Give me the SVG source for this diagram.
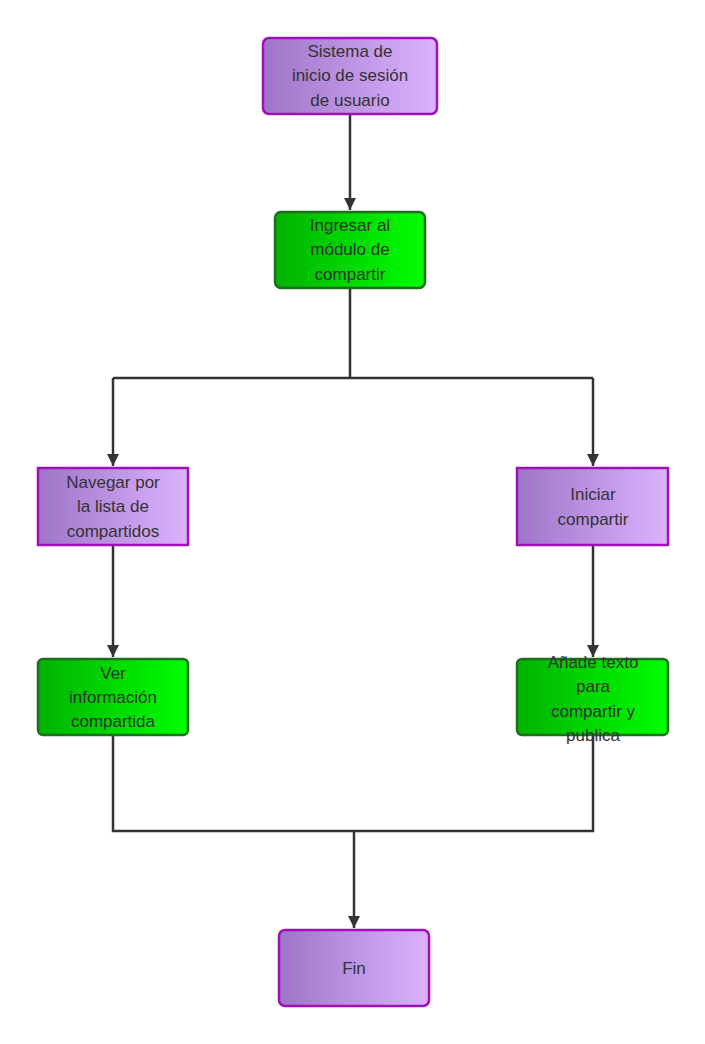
<svg xmlns="http://www.w3.org/2000/svg" width="705" height="1044" viewBox="0 0 705 1044">
<defs>
<linearGradient id="gp" x1="0" y1="0" x2="1" y2="0"><stop offset="0" stop-color="#9e74c8"/><stop offset="1" stop-color="#dcb2ff"/></linearGradient>
<linearGradient id="gg" x1="0" y1="0" x2="1" y2="0"><stop offset="0" stop-color="#00b200"/><stop offset="1" stop-color="#00ff00"/></linearGradient>
<marker id="ar" viewBox="0 0 10 10" refX="10" refY="5" markerWidth="5" markerHeight="5" orient="auto"><path d="M0,0 L10,5 L0,10 z" fill="#333"/></marker>
<style>
.p{fill:url(#gp);stroke:#a010b8;stroke-width:2.5}
.g{fill:url(#gg);stroke:#1e6e1e;stroke-width:2.5}
text{font-family:"Liberation Sans",Arial,sans-serif;font-size:17px;fill:#333;text-anchor:middle}
.c{fill:none;stroke:#333;stroke-width:2.5}
</style>
</defs>
<rect width="705" height="1044" fill="#fff"/>
<g id="connectors">
<path class="c" d="M350,114 V210" marker-end="url(#ar)"/>
<path class="c" d="M350,288 V378 M113,378 H593"/>
<path class="c" d="M113,378 V466" marker-end="url(#ar)"/>
<path class="c" d="M593,378 V466" marker-end="url(#ar)"/>
<path class="c" d="M113,545 V657" marker-end="url(#ar)"/>
<path class="c" d="M593,545 V657" marker-end="url(#ar)"/>
<path class="c" d="M113,735 V831 H593 V735"/>
<path class="c" d="M354,831 V928" marker-end="url(#ar)"/>
</g>
<g id="n1"><rect class="p" x="263" y="38" width="174" height="76" rx="6"/><text x="350" y="57">Sistema de</text><text x="350" y="81">inicio de sesión</text><text x="350" y="106">de usuario</text></g>
<g id="n2"><rect class="g" x="275" y="212" width="150" height="76" rx="6"/><text x="350" y="231">Ingresar al</text><text x="350" y="255">módulo de</text><text x="350" y="280">compartir</text></g>
<g id="n3"><rect class="p" x="38" y="468" width="150" height="77"/><text x="113" y="488">Navegar por</text><text x="113" y="512">la lista de</text><text x="113" y="537">compartidos</text></g>
<g id="n4"><rect class="p" x="517" y="468" width="151" height="77"/><text x="593" y="500">Iniciar</text><text x="593" y="525">compartir</text></g>
<g id="n5"><rect class="g" x="38" y="659" width="150" height="76" rx="5"/><text x="113" y="679">Ver</text><text x="113" y="703">información</text><text x="113" y="727">compartida</text></g>
<g id="n6"><rect class="g" x="517" y="659" width="151" height="76" rx="5"/><text x="593" y="668">Añade texto</text><text x="593" y="692">para</text><text x="593" y="717">compartir y</text><text x="593" y="741">publica</text></g>
<g id="n7"><rect class="p" x="279" y="930" width="150" height="76" rx="6"/><text x="354" y="974">Fin</text></g>
</svg>
